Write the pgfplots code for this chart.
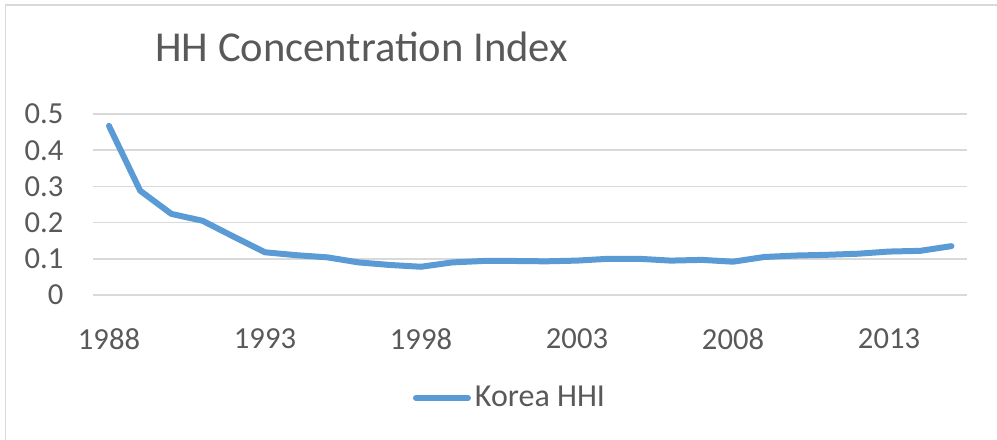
\documentclass[border=0pt]{standalone}
\usepackage{pgfplots}
\pgfplotsset{compat=1.18}
\usepackage{fontspec}
\setmainfont{Carlito}
\definecolor{exblue}{RGB}{91,155,213}
\definecolor{exgrid}{RGB}{217,217,217}
\definecolor{extext}{RGB}{89,89,89}
\begin{document}
\begin{tikzpicture}
\useasboundingbox (0,0) rectangle (498.5bp,220bp);
\draw[exgrid, line width=0.8bp] (2.8bp,0) -- (2.8bp,217.4bp) -- (498.5bp,217.4bp);
\node[anchor=base west, text=extext, font=\fontsize{21.3bp}{25bp}\selectfont, inner sep=0] at (77.5bp,189bp) {HH Concentration Index};
\begin{axis}[
  at={(46.7bp,72.5bp)}, anchor=south west,
  scale only axis, width=436.8bp, height=90.5bp,
  xmin=1987.5, xmax=2015.5, ymin=0, ymax=0.5,
  xtick={1988,1993,1998,2003,2008,2013},
  ytick={0,0.1,0.2,0.3,0.4,0.5},
  yticklabels={0,0.1,0.2,0.3,0.4,0.5},
  xticklabels={1988,1993,1998,2003,2008,2013},
  axis line style={draw=none},
  major tick length=0pt,
  ymajorgrids, grid style={exgrid, line width=0.8bp},
  ticklabel style={font=\fontsize{15.3bp}{18bp}\selectfont, text=extext},
  yticklabel style={anchor=east, xshift=-11.5bp},
  xticklabel style={anchor=north, yshift=-13.5bp},
  clip=false,
  legend style={at={(0.478,-0.569)}, anchor=center, draw=none, fill=none,
    font=\fontsize{16bp}{19bp}\selectfont, text=extext, inner sep=0pt},
  legend cell align=left,
  legend image code/.code={\draw[#1, line cap=round] (0bp,0bp) -- (26bp,0bp);},
]
\addplot[exblue, line width=3bp, line join=round, line cap=round, mark=none] coordinates {
(1988,0.467) (1989,0.288) (1990,0.224) (1991,0.205) (1992,0.161)
(1993,0.118) (1994,0.110) (1995,0.104) (1996,0.090) (1997,0.083)
(1998,0.078) (1999,0.090) (2000,0.094) (2001,0.094) (2002,0.093)
(2003,0.095) (2004,0.100) (2005,0.100) (2006,0.095) (2007,0.097)
(2008,0.092) (2009,0.105) (2010,0.109) (2011,0.111) (2012,0.114)
(2013,0.120) (2014,0.122) (2015,0.135)
};
\addlegendentry{Korea HHI}
\end{axis}
\end{tikzpicture}
\end{document}
